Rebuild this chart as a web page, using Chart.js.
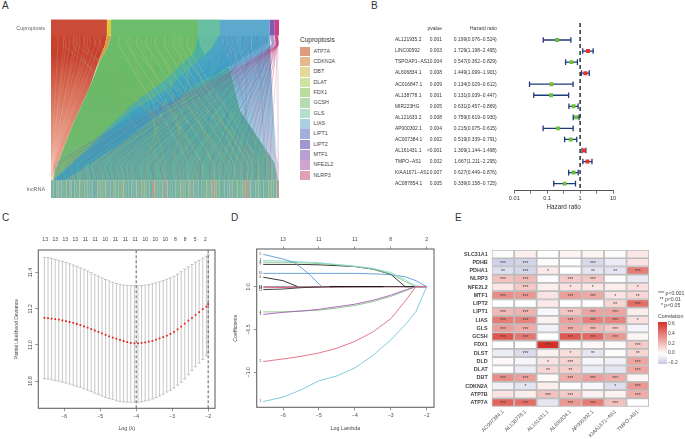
<!DOCTYPE html>
<html>
<head>
<meta charset="utf-8">
<script src="https://cdn.jsdelivr.net/npm/chart.js@4/dist/chart.umd.min.js"></script>
<style>
  html, body { margin: 0; padding: 0; background: #fff; overflow: hidden; }
  body { width: 685px; height: 439px; position: relative; font-family: "Liberation Sans", sans-serif; }
  canvas { position: absolute; }
  .t { position: absolute; white-space: nowrap; color: #444; line-height: 1; }
  .letter { font-size: 10px; color: #333; }
  .sw { position: absolute; left: 300px; width: 10px; height: 9.5px; }
</style>
</head>
<body>
<div class="t letter" style="left:2px;top:1px">A</div>
<div class="t letter" style="left:371px;top:1px">B</div>
<div class="t letter" style="left:2px;top:213px">C</div>
<div class="t letter" style="left:231px;top:213px">D</div>
<div class="t letter" style="left:455px;top:213px">E</div>

<canvas id="alluvial" width="295" height="210" style="left:0;top:0"></canvas>
<canvas id="forest" width="315" height="215" style="left:370px;top:0"></canvas>
<canvas id="cvPlot" width="225" height="219" style="left:0;top:220px"></canvas>
<canvas id="pathPlot" width="222" height="219" style="left:228px;top:220px"></canvas>
<canvas id="heat" width="235" height="219" style="left:450px;top:220px"></canvas>

<script>
Chart.defaults.font.family = '"Liberation Sans", sans-serif';
Chart.defaults.animation = false;
Chart.defaults.color = '#444';

// ---- A: alluvial ----
const legendGenes = ['ATP7A','CDKN2A','DBT','DLAT','FDX1','GCSH','GLS','LIAS','LIPT1','LIPT2','MTF1','NFE2L2','NLRP3'];
const legendColors = ['#e09a80','#e5b88e','#e5d89a','#cfe3a0','#b9dc9e','#b5dcae','#b2dfce','#abcfe3','#a4aedb','#a096d0','#b8a0d2','#d0a4d0','#e2a0b4'];

// top strata: [from, to, colour]
const strataFrom = [0, 24.5, 26.4, 64.6, 74.1, 95.9, 98.1];
const strataTo = [24.5, 26.4, 64.6, 74.1, 95.9, 98.1, 100];
const strataColors = ['#ca4c38','#dfc640','#6cbd6c','#68bfa2','#5da9cd','#7c5cb4','#cf3f82'];

// ribbon outlines, [x, y] in percent of the plot
const paleFan = [[74.1,91],[95.9,91],[97,60],[99.3,11],[98,20],[83,49],[78.6,72],[74.5,84]];
const redFan = [[0,100],[24.5,100],[24.5,91],[23.5,85],[21.5,79],[17.1,62.4],[9.8,41.9],[1.8,15.7],[0,10]];
const dbtFan = [[24.5,91],[26.4,91],[25,85],[21.5,77],[19,70],[21.5,79],[23.5,85]];
const greenFan = [[26.4,100],[64.6,100],[64.6,91],[64,83],[60,75],[72,40],[99.5,10],[0.5,10],[1.8,15.7],[9.8,41.9],[17.1,62.4],[21.5,77],[25,85],[26.4,91]];
const tealFan = [[64.6,91],[63,82],[50,66],[36,53],[1,10],[99.6,10],[98,20],[83,49],[78.6,72],[74.5,84],[74.1,91]];
const tealBlock = [[64.6,100],[74.1,100],[74.1,92],[71,85],[67.5,80],[65.5,85],[64.6,91]];
const blueBand = [[74.1,92],[95.9,92],[95,87],[82,76],[64,64],[50,49],[30,30],[6,10],[0.9,10],[36,49.3],[50,60],[67.5,80],[71,85]];

// strands, [top x, bottom x]
const nlrp3Strands = [[98.4,5],[98.9,8],[99.2,11],[98.6,14],[99.4,18],[98.2,21],[99,24],[98.7,28],[99.3,31],[98.4,35],[99,38],[98.6,42],[99.4,45],[98.3,49],[99,52],[98.7,56],[99.2,59],[98.5,63],[99,66],[98.2,70],[98.8,73],[99.4,76],[98.4,79],[99,82],[98.7,84.5],[98.2,85.5],[99.3,87],[98.8,89],[99.1,92],[98.5,94],[99.5,96]];
const lipt2Strands = [[96.2,3],[97,9],[96.6,15],[97.6,20],[96.3,26],[97.2,33],[96.8,39],[97.5,46],[96.4,51],[97,58],[96.7,65],[97.4,71],[96.2,77],[97,83],[97.6,90]];
const blueStrands = [[90,4],[84,7],[94,11],[78,15],[88,18],[80,22],[93,26],[85,29],[76,33],[90,37],[82,41],[94,45],[87,49],[78,53],[91,57],[84,61],[76,66],[89,70],[80,75],[93,80],[86,85],[79,90],[91,94]];
const greenStrands = [[58,42],[44,46],[35,50],[62,54],[50,58],[40,62],[30,66],[56,70],[46,74],[36,78],[60,82],[52,86],[42,90],[33,94],[55,96]];
const oliveStrands = [[10,48],[22,56],[15,64],[6,72],[20,78],[12,84],[25,90]];
const mixStrands = [[70,12],[68,20],[72,27],[66,35],[71,44],[69,52],[73,60],[67,68],[70,76],[72,88],[68,93]];
const paleStrands = [[76,99],[79,99.3],[82,98.8],[85,99.4],[88,98.5],[91,99],[94,99.5],[78,97],[83,97.6],[88,97],[93,96.6],[80,95.5],[86,94.5],[98.8,99.6],[99.2,99.8],[99.6,99.9]];
const redStrands = [[3,0.3],[5.5,0.5],[8,0.4],[10,0.8],[12.5,0.6],[14.5,1],[17,0.9],[19,1.2],[21,1.1],[6.5,0.2],[11,0.3],[15.8,0.5]];
const greenFanStrands = [[30,60],[34,66],[38,71],[42,76],[46,80],[50,83],[54,86],[57,88],[60,91]];

// bottom lncRNA strip, one colour digit per stripe
const stripPalette = ['#7ab3a0','#72b0a2','#84b498','#8bb394','#6fafa6','#94b190','#a8a592','#7fb0ad','#b09a8e','#79b596'];
const stripDigits = '0137021540931207415023713905241073152048312760419032157204193065210473129058371204913276';

function gradY(stops) {
  return ctx => {
    const a = ctx.chart.chartArea;
    if (!a) return stops[0];
    const g = ctx.chart.ctx.createLinearGradient(0, a.top, 0, a.bottom);
    stops.forEach((c, i) => g.addColorStop(i / (stops.length - 1), c));
    return g;
  };
}
function shape(pts, color) {
  return { data: pts.map(p => ({x: p[0], y: p[1]})), showLine: true, fill: 'shape', backgroundColor: color, borderWidth: 0, pointRadius: 0 };
}
function strand(pair, color, w) {
  // bottom end, bottom shoulder, top shoulder, top end
  return { data: [{x: pair[1], y: 10}, {x: pair[1], y: 20}, {x: pair[0], y: 85}, {x: pair[0], y: 91}], showLine: true, tension: 0.4, borderColor: color, borderWidth: w, pointRadius: 0, fill: false };
}

const alluvialSets = [
  shape(redFan, gradY(['#c9452f','#c6402e','#d56a53','#e28c76','#eaa28e','#eaa28e'])),
  shape(dbtFan, '#e09a3c'),
  shape(greenFan, gradY(['#6cbd6c','#69ba68','#6eb96a','#86b58c'])),
  shape(paleFan, gradY(['#5da9cd','#78b6d5','#a6cde3','#d3e6f0'])),
  shape(tealFan, gradY(['#4bb39a','#4bb0a6','#58ab9f','#72b19d'])),
  shape(tealBlock, '#68bfa2'),
  shape(blueBand, gradY(['#55a5cb','#3fa2c5','#3ea2b9','#49a4b5']))
];
redStrands.forEach(s => alluvialSets.push(strand(s, 'rgba(255,225,210,0.22)', 0.7)));
greenFanStrands.forEach(s => alluvialSets.push(strand(s, 'rgba(200,230,190,0.22)', 1)));
paleStrands.forEach(s => alluvialSets.push(strand(s, 'rgba(215,170,205,0.5)', 0.5)));
blueStrands.forEach(s => alluvialSets.push(strand(s, 'rgba(70,130,190,0.3)', 0.8)));
mixStrands.forEach(s => alluvialSets.push(strand(s, 'rgba(90,175,160,0.35)', 0.8)));
greenStrands.forEach(s => alluvialSets.push(strand(s, 'rgba(165,185,100,0.4)', 0.8)));
oliveStrands.forEach(s => alluvialSets.push(strand(s, 'rgba(170,170,110,0.35)', 0.8)));
lipt2Strands.forEach(s => alluvialSets.push(strand(s, 'rgba(125,85,175,0.35)', 0.6)));
nlrp3Strands.forEach(s => alluvialSets.push(strand(s, 'rgba(195,65,125,0.36)', 0.6)));
strataFrom.forEach((f, i) => {
  alluvialSets.push(shape([[f,100],[strataTo[i],100],[strataTo[i],91],[f,91]], strataColors[i]));
});
[...stripDigits].forEach((d, i) => {
  const w = 100 / stripDigits.length;
  alluvialSets.push(shape([[i*w,0],[(i+1)*w,0],[(i+1)*w,10],[i*w,10]], stripPalette[+d]));
});
// chart.js paints the first dataset last, so flip to keep the list in paint order
alluvialSets.reverse();

new Chart(document.getElementById('alluvial'), {
  type: 'scatter',
  data: { datasets: alluvialSets },
  options: {
    responsive: false,
    layout: { padding: { top: 19.5, right: 16, bottom: 12 } },
    plugins: { legend: { display: false }, tooltip: { enabled: false } },
    scales: {
      x: { type: 'linear', min: 0, max: 100, display: false },
      y: {
        type: 'linear', min: 0, max: 100,
        afterFit: s => { s.width = 51; },
        afterBuildTicks: s => { s.ticks = [{value: 5}, {value: 95}]; },
        grid: { display: false, drawTicks: false }, border: { display: false },
        ticks: { autoSkip: false, padding: 6, color: '#666', font: { size: 5.4 }, callback: v => v === 95 ? 'Cuproptosis' : 'lncRNA' }
      }
    }
  }
});

// html legend of panel A
document.body.insertAdjacentHTML('beforeend', '<div class="t" style="left:300px;top:36.5px;font-size:6.5px;color:#333">Cuproptosis</div>');
legendGenes.forEach((g, i) => {
  const y = 51.3 + i * 10.35;
  document.body.insertAdjacentHTML('beforeend',
    `<div class="sw" style="top:${y - 4.75}px;background:${legendColors[i]}"></div>` +
    `<div class="t" style="left:313.5px;top:${y - 2.7}px;font-size:5.35px">${g}</div>`);
});

// ---- B: forest ----
const forestGenes = ['AL121935.2','LINC00592','TSPOAP1\u2212AS1','AL606834.1','AC016847.1','AL138778.1','MIR223HG','AL121633.2','AP000302.1','AC007384.1','AL161431.1','TMPO\u2212AS1','KIAA1671\u2212AS1','AC087854.1'];
const forestP = ['0.001','0.003','0.004','0.008','0.009','0.001','0.005','0.008','0.004','0.002','<0.001','0.002','0.007','0.005'];
const forestHR = [0.199,1.729,0.547,1.449,0.134,0.131,0.631,0.759,0.215,0.519,1.309,1.667,0.627,0.339];
const forestLow = [0.076,1.198,0.362,1.099,0.029,0.039,0.457,0.619,0.075,0.339,1.144,1.211,0.449,0.158];
const forestHigh = [0.524,2.495,0.829,1.901,0.612,0.447,0.869,0.930,0.615,0.791,1.498,2.295,0.876,0.725];
const forestTicks = [0.01,0.0316,0.1,0.316,1,3.16,10];

const forestSets = [];
forestSets.push({
  data: forestHR.map((v, i) => ({x: v, y: i})),
  pointStyle: 'rect', pointRadius: 2.8, pointBorderWidth: 0,
  pointBackgroundColor: forestHR.map(v => v > 1 ? '#e8322b' : '#6cbf3a')
});
forestSets.push({
  data: [{x: 1, y: -1.54}, {x: 1, y: 13.64}], showLine: true, borderColor: '#111', borderWidth: 1.3, borderDash: [4, 3], pointRadius: 0
});
forestGenes.forEach((g, i) => {
  forestSets.push({
    data: [{x: forestLow[i], y: i}, {x: forestHigh[i], y: i}],
    showLine: true, borderColor: '#1f3a7a', borderWidth: 1.3,
    pointStyle: 'line', pointRotation: 90, pointRadius: 2.8, pointBorderColor: '#1f3a7a', pointBorderWidth: 1.3
  });
});

const forestColumns = {
  id: 'forestColumns',
  afterDraw(chart) {
    const c = chart.ctx, y = chart.scales.y;
    c.save();
    c.font = '4.9px "Liberation Sans"';
    c.fillStyle = '#333';
    c.textBaseline = 'middle';
    c.textAlign = 'right';
    c.fillText('pvalue', 72, y.getPixelForValue(-1));
    c.fillText('Hazard ratio', 126.7, y.getPixelForValue(-1));
    forestGenes.forEach((g, i) => {
      const py = y.getPixelForValue(i);
      c.textAlign = 'left';
      c.fillText(g, 25, py);
      c.textAlign = 'right';
      c.fillText(forestP[i], 72, py);
      c.fillText(`${forestHR[i].toFixed(3)}(${forestLow[i].toFixed(3)}\u2212${forestHigh[i].toFixed(3)})`, 126.7, py);
    });
    c.restore();
  }
};

new Chart(document.getElementById('forest'), {
  type: 'scatter',
  data: { datasets: forestSets },
  plugins: [forestColumns],
  options: {
    responsive: false,
    layout: { padding: { top: 23, right: 72 } },
    plugins: { legend: { display: false }, tooltip: { enabled: false } },
    scales: {
      x: {
        type: 'logarithmic', min: 0.01, max: 10,
        afterFit: s => { s.height = 24.3; },
        afterBuildTicks: s => { s.ticks = forestTicks.map(v => ({value: v})); },
        grid: { drawOnChartArea: false, tickLength: 3, tickColor: '#555', tickWidth: 0.8 },
        border: { color: '#555', width: 1 },
        title: { display: true, text: 'Hazard ratio', font: { size: 6.3 }, color: '#333', padding: { top: 0, bottom: 4.2 } },
        ticks: { autoSkip: false, maxRotation: 0, padding: 1.5, color: '#333', font: { size: 5.6 }, callback: v => [0.01,0.1,1,10].includes(v) ? String(v) : '' }
      },
      y: { type: 'linear', reverse: true, min: -1.54, max: 13.64, afterFit: s => { s.width = 144.3; }, grid: { display: false }, border: { display: false }, ticks: { display: false } }
    }
  }
});

// ---- C: cross validation curve ----
const cvLambda = [-6.55,-6.45,-6.35,-6.25,-6.15,-6.05,-5.95,-5.85,-5.75,-5.65,-5.55,-5.45,-5.35,-5.25,-5.15,-5.05,-4.95,-4.85,-4.75,-4.65,-4.55,-4.45,-4.35,-4.25,-4.15,-4.05,-3.95,-3.85,-3.75,-3.65,-3.55,-3.45,-3.35,-3.25,-3.15,-3.05,-2.95,-2.85,-2.75,-2.65,-2.55,-2.45,-2.35,-2.25,-2.15,-2.05,-2.0];
const cvMean = [11.150,11.148,11.146,11.143,11.140,11.136,11.132,11.127,11.122,11.116,11.110,11.103,11.096,11.088,11.080,11.072,11.064,11.056,11.048,11.041,11.035,11.028,11.022,11.016,11.012,11.009,11.009,11.011,11.014,11.018,11.023,11.029,11.036,11.044,11.052,11.062,11.073,11.086,11.102,11.118,11.134,11.150,11.166,11.182,11.198,11.212,11.226];
const cvUpper = [11.483,11.482,11.478,11.474,11.468,11.462,11.456,11.449,11.442,11.434,11.426,11.418,11.409,11.400,11.390,11.380,11.371,11.362,11.354,11.346,11.340,11.335,11.331,11.329,11.328,11.328,11.328,11.329,11.331,11.334,11.338,11.343,11.349,11.356,11.363,11.371,11.380,11.392,11.405,11.420,11.432,11.445,11.458,11.468,11.480,11.490,11.500];
const cvLower = [10.814,10.812,10.808,10.804,10.800,10.795,10.790,10.784,10.778,10.772,10.766,10.758,10.750,10.742,10.734,10.726,10.718,10.710,10.704,10.698,10.692,10.688,10.685,10.684,10.684,10.684,10.684,10.686,10.690,10.695,10.702,10.710,10.718,10.728,10.740,10.750,10.762,10.778,10.794,10.812,10.836,10.858,10.880,10.900,10.920,10.940,10.954];
const cvTopPos = [-6.53,-6.25,-5.97,-5.69,-5.41,-5.14,-4.86,-4.58,-4.3,-4.03,-3.75,-3.47,-3.19,-2.91,-2.64,-2.36,-2.08];
const cvTopLabels = ['13','13','13','13','11','11','10','11','11','11','10','10','10','8','8','5','2'];
const cvVlines = [-4.0, -2.0];

const boxPlugin = {
  id: 'boxPlugin',
  afterDraw(chart) {
    const a = chart.chartArea, c = chart.ctx;
    c.save();
    c.strokeStyle = '#666';
    c.lineWidth = 1.1;
    c.strokeRect(a.left, a.top, a.right - a.left, a.bottom - a.top);
    c.restore();
  }
};

function rAxisX(min, max, title, height) {
  return {
    type: 'linear', min: min, max: max, position: 'bottom',
    afterFit: s => { s.height = height; },
    afterBuildTicks: s => { s.ticks = [-6,-5,-4,-3,-2].map(v => ({value: v})); },
    grid: { drawOnChartArea: false, tickLength: 3, tickColor: '#666', tickWidth: 0.7 },
    border: { display: false },
    title: { display: true, text: title, font: { size: 5.3 }, color: '#444', padding: { top: 0, bottom: 7 } },
    ticks: { autoSkip: false, maxRotation: 0, padding: 2.5, color: '#444', font: { size: 5 }, callback: v => String(v).replace('-', '\u2212') }
  };
}

const cvBars = [];
cvLambda.forEach((x, i) => {
  cvBars.push({x: x, y: cvLower[i]}, {x: x, y: cvUpper[i]}, {x: NaN, y: NaN});
});

new Chart(document.getElementById('cvPlot'), {
  type: 'scatter',
  data: { datasets: [
    { data: cvLambda.map((x, i) => ({x: x, y: cvMean[i]})), pointStyle: 'rect', pointRadius: 1.25, pointBorderWidth: 0, pointBackgroundColor: '#e3261c' },
    { data: [{x: cvVlines[0], y: 10.65}, {x: cvVlines[0], y: 11.525}], showLine: true, borderColor: '#333', borderWidth: 0.8, borderDash: [3, 2], pointRadius: 0 },
    { data: [{x: cvVlines[1], y: 10.65}, {x: cvVlines[1], y: 11.525}], showLine: true, borderColor: '#333', borderWidth: 0.8, borderDash: [3, 2], pointRadius: 0 },
    { data: cvBars, showLine: true, borderColor: '#c0c0c0', borderWidth: 0.9, pointStyle: 'line', pointRadius: 1.6, pointBorderColor: '#bdbdbd', pointBorderWidth: 0.9, spanGaps: false }
  ] },
  plugins: [boxPlugin],
  options: {
    responsive: false,
    layout: { padding: { right: 10 } },
    plugins: { legend: { display: false }, tooltip: { enabled: false } },
    scales: {
      x: rAxisX(-6.72, -1.81, 'Log (\u03bb)', 30.7),
      xTop: {
        type: 'linear', position: 'top', min: -6.72, max: -1.81,
        afterFit: s => { s.height = 30; },
        afterBuildTicks: s => { s.ticks = cvTopPos.map(v => ({value: v})); },
        grid: { display: false, drawTicks: false }, border: { display: false },
        ticks: { autoSkip: false, maxRotation: 0, padding: 7, color: '#444', font: { size: 5 }, callback: (v, i) => cvTopLabels[i] }
      },
      y: {
        type: 'linear', min: 10.65, max: 11.525,
        afterFit: s => { s.width = 38.3; },
        afterBuildTicks: s => { s.ticks = [10.8,11,11.2,11.4].map(v => ({value: v})); },
        grid: { drawOnChartArea: false, tickLength: 3, tickColor: '#666', tickWidth: 0.7 },
        border: { display: false },
        title: { display: true, text: 'Partial Likelihood Deviance', font: { size: 5 }, color: '#444', padding: { top: 13.5, bottom: 0 } },
        ticks: { autoSkip: false, minRotation: 90, maxRotation: 90, crossAlign: 'center', padding: 0, color: '#444', font: { size: 5 }, callback: v => v.toFixed(1) }
      }
    }
  }
});

// ---- D: coefficient paths ----
const pathLambda = [-6.55,-6,-5.5,-5,-4.5,-4,-3.5,-3,-2.6,-2.3,-2];
const pathCyanLow = [-1.342,-1.292,-1.206,-1.10,-1.043,-0.95,-0.805,-0.623,-0.447,-0.292,0];
const pathRed = [-0.875,-0.845,-0.815,-0.775,-0.72,-0.64,-0.53,-0.375,-0.17,0,0];
const pathPurple = [-0.325,-0.30,-0.285,-0.265,-0.235,-0.205,-0.16,-0.10,-0.04,0,0];
const pathGreenLow = [-0.295,-0.295,-0.285,-0.275,-0.25,-0.22,-0.175,-0.115,-0.05,0,0];
const pathAqua = [0.305,0.30,0.29,0.28,0.26,0.24,0.215,0.165,0.08,0.01,0];
const pathGreenTop = [0.285,0.285,0.28,0.27,0.255,0.235,0.205,0.15,0.06,0,0];
const pathBlack = [0.26,0.26,0.26,0.255,0.245,0.235,0.205,0.145,0,0,0];
const pathBlueFlat = [0.155,0.155,0.155,0.155,0.155,0.155,0.15,0.14,0.115,0.07,0];
const pathPink = [-0.012,-0.01,-0.007,-0.005,-0.003,-0.001,0,0,0,0,0];
const pathDark = [-0.035,-0.028,-0.012,-0.005,0,0,0,0,0,0,0];
const pathGrey = [0,0,0,0,0,0,0,0,0,0,0];
const blueTopX = [-6.55,-6,-5.67,-5.3,-4.93];
const blueTopY = [0.377,0.323,0.28,0.156,0.005];
const black2X = [-6.55,-6,-5.6];
const black2Y = [0.11,0.07,0.002];
const blackZeroX = [-4.7,-4,-3.2];
const blackZeroY = [0,0,0];

function pathLine(xs, ys, color) {
  return { data: xs.map((x, i) => ({x: x, y: ys[i]})), showLine: true, borderColor: color, borderWidth: 0.9, pointRadius: 0 };
}
const pathSets = [
  pathLine(pathLambda, pathGrey, '#808080'),
  pathLine(pathLambda, pathPink, '#d9507f'),
  pathLine(pathLambda, pathDark, '#333'),
  pathLine(blackZeroX, blackZeroY, '#111'),
  pathLine(pathLambda, pathBlueFlat, '#5b9bd5'),
  pathLine(pathLambda, pathBlack, '#222'),
  pathLine(pathLambda, pathGreenTop, '#84c97f'),
  pathLine(pathLambda, pathAqua, '#8fd8e0'),
  pathLine(black2X, black2Y, '#222'),
  pathLine(blueTopX, blueTopY, '#5b9bd5'),
  pathLine(pathLambda, pathGreenLow, '#84c97f'),
  pathLine(pathLambda, pathPurple, '#a95cbc'),
  pathLine(pathLambda, pathRed, '#e2697f'),
  pathLine(pathLambda, pathCyanLow, '#6fcad6')
].reverse();

const pathNumbers = {
  id: 'pathNumbers',
  afterDatasetsDraw(chart) {
    const c = chart.ctx, sx = chart.scales.x, sy = chart.scales.y;
    c.save();
    c.font = '3.2px "Liberation Sans"';
    c.fillStyle = '#444';
    c.textAlign = 'center';
    c.textBaseline = 'middle';
    chart.data.datasets.forEach((d, i) => {
      c.fillText(String(i + 1), sx.getPixelForValue(-6.63), sy.getPixelForValue(d.data[0].y));
    });
    c.restore();
  }
};

new Chart(document.getElementById('pathPlot'), {
  type: 'scatter',
  data: { datasets: pathSets },
  plugins: [boxPlugin, pathNumbers],
  options: {
    responsive: false,
    layout: { padding: { right: 16 } },
    plugins: { legend: { display: false }, tooltip: { enabled: false } },
    scales: {
      x: rAxisX(-6.733, -1.796, 'Log Lambda', 31.7),
      xTop: {
        type: 'linear', position: 'top', min: -6.733, max: -1.796,
        afterFit: s => { s.height = 29; },
        afterBuildTicks: s => { s.ticks = [-6,-5,-4,-3,-2].map(v => ({value: v})); },
        grid: { drawOnChartArea: false, tickLength: 2.5, tickColor: '#666', tickWidth: 0.7 }, border: { display: false },
        ticks: { autoSkip: false, maxRotation: 0, padding: 4.3, color: '#444', font: { size: 5 }, callback: (v, i) => ['13','11','11','8','2'][i] }
      },
      y: {
        type: 'linear', min: -1.41, max: 0.44,
        afterFit: s => { s.width = 28.7; },
        afterBuildTicks: s => { s.ticks = [-1,-0.5,0].map(v => ({value: v})); },
        grid: { drawOnChartArea: false, tickLength: 3, tickColor: '#666', tickWidth: 0.7 },
        border: { display: false },
        title: { display: true, text: 'Coefficients', font: { size: 5.2 }, color: '#444', padding: { top: 4, bottom: 0 } },
        ticks: { autoSkip: false, minRotation: 90, maxRotation: 90, crossAlign: 'center', padding: 0, color: '#444', font: { size: 5 }, callback: v => v.toFixed(1).replace('-', '\u2212') }
      }
    }
  }
});

// ---- E: correlation heatmap ----
const heatRows = ['SLC31A1','PDHB','PDHA1','NLRP3','NFE2L2','MTF1','LIPT2','LIPT1','LIAS','GLS','GCSH','FDX1','DLST','DLD','DLAT','DBT','CDKN2A','ATP7B','ATP7A'];
const heatCols = ['AC007384.1','AL138778.1','AL161431.1','AL606834.1','AP000302.1','KIAA1671\u2212AS1','TMPO\u2212AS1'];
const heatValues = [
  [0.01,0.05,0,0.03,0.03,0.01,0.07],
  [-0.17,-0.16,0.01,0,-0.14,-0.07,0.08],
  [-0.12,-0.15,0.06,0,-0.10,-0.10,0.38],
  [0.18,0.20,-0.01,0.15,0.16,0.01,-0.08],
  [0.07,0.16,0.05,0.08,0.07,0.05,0.09],
  [0.33,0.30,0.08,0.28,0.25,0.08,0.12],
  [0,0,0.06,0,0,0.12,0.42],
  [0.20,0.22,-0.03,0.17,0.26,0.26,0.05],
  [0.38,0.36,0.04,0.28,0.37,0.36,0.09],
  [0.28,0.24,-0.05,0.24,0.20,0.15,-0.04],
  [0.49,0.40,0,0.48,0.44,0.30,0.03],
  [0,0,0.60,0,0.02,0.01,0.15],
  [-0.07,-0.13,0.04,0.10,-0.09,0.01,0.12],
  [0.02,-0.03,0.08,0.13,-0.03,-0.05,0.26],
  [0,-0.07,0.12,0.14,-0.07,-0.09,0.26],
  [0.33,0.28,0.01,0.24,0.28,0.24,0.03],
  [-0.05,-0.10,0.05,0,-0.03,-0.12,0.30],
  [0.08,0.05,0.18,0.15,0.04,0.04,0.24],
  [0.45,0.42,-0.09,0.30,0.38,0.18,0]
];
const heatStars = [
  ['','','','','','',''],
  ['***','***','','','***','',''],
  ['**','***','*','','**','**','***'],
  ['***','***','','***','***','',''],
  ['','***','','*','*','','*'],
  ['***','***','','***','***','*','**'],
  ['','','','','','**','***'],
  ['***','***','','***','***','***',''],
  ['***','***','','***','***','***','*'],
  ['***','***','','***','***','***',''],
  ['***','***','','***','***','***',''],
  ['','','***','','','','***'],
  ['','***','','*','**','','**'],
  ['','','*','***','','','***'],
  ['','','**','**','','','***'],
  ['***','***','','***','***','***',''],
  ['','*','','','','*','***'],
  ['','','***','***','','','***'],
  ['***','***','','***','***','***','']
];

function heatColor(v) {
  // white at 0, red at 0.6, lavender at -0.2
  const top = v >= 0 ? [215,48,39] : [200,200,228];
  const t = Math.min(1, v >= 0 ? v / 0.6 : -v / 0.2);
  const ch = k => Math.round(255 + (top[k] - 255) * t);
  return `rgb(${ch(0)},${ch(1)},${ch(2)})`;
}

const heatStarPlugin = {
  id: 'heatStarPlugin',
  afterDatasetsDraw(chart) {
    const c = chart.ctx, sx = chart.scales.x, sy = chart.scales.y;
    c.save();
    c.font = '5px "Liberation Sans"';
    c.fillStyle = '#444';
    c.textAlign = 'center';
    c.textBaseline = 'middle';
    heatStars.forEach((row, r) => row.forEach((s, k) => {
      if (s) c.fillText(s, sx.getPixelForValue(k + 0.5), sy.getPixelForValue(r) + 0.8);
    }));
    c.restore();
  }
};

new Chart(document.getElementById('heat'), {
  type: 'bar',
  data: {
    labels: heatRows,
    datasets: heatCols.map((name, k) => ({
      label: name,
      data: heatRows.map(() => 1),
      backgroundColor: heatRows.map((r, i) => heatColor(heatValues[i][k])),
      borderColor: '#bdbdbd', borderWidth: 1.2, borderSkipped: false,
      barPercentage: 1, categoryPercentage: 1
    }))
  },
  plugins: [heatStarPlugin],
  options: {
    indexAxis: 'y',
    responsive: false,
    layout: { padding: { top: 30, right: 36 } },
    plugins: { legend: { display: false }, tooltip: { enabled: false } },
    scales: {
      x: {
        type: 'linear', stacked: true, min: 0, max: 7,
        afterFit: s => { s.height = 32.3; },
        afterBuildTicks: s => { s.ticks = heatCols.map((n, k) => ({value: k + 0.5})); },
        grid: { display: false, drawTicks: false }, border: { display: false },
        ticks: { autoSkip: false, minRotation: 45, maxRotation: 45, padding: 2, color: '#555', font: { size: 5.2 }, callback: (v, i) => heatCols[i] }
      },
      y: {
        stacked: true,
        afterFit: s => { s.width = 41.7; },
        grid: { display: false, drawTicks: false }, border: { display: false },
        ticks: { autoSkip: false, padding: 4, color: '#444', font: { size: 5.4, weight: 'bold' } }
      }
    }
  }
});

// legend of panel E
const sigLegend = ['*** p<0.001', ' ** p<0.01', '  * p<0.05'];
const barTicks = ['0.6', '0.4', '0.2', '0.0', '\u22120.2'];
const barTickY = [324, 334, 344, 353.7, 363.3];
sigLegend.forEach((s, i) => {
  document.body.insertAdjacentHTML('beforeend',
    `<div class="t" style="left:658px;top:${291.3 + i * 5.85}px;font-size:5.2px;white-space:pre">${s}</div>`);
});
document.body.insertAdjacentHTML('beforeend',
  '<div class="t" style="left:658px;top:314px;font-size:5.2px">Correlation</div>' +
  '<div style="position:absolute;left:658px;top:322px;width:8.5px;height:42px;background:linear-gradient(to bottom,#d73027 0%,#fff 76%,#c8c8e4 100%)"></div>');
barTicks.forEach((s, i) => {
  document.body.insertAdjacentHTML('beforeend',
    `<div class="t" style="left:668px;top:${barTickY[i] - 2.5}px;font-size:4.9px">${s}</div>`);
});
</script>
</body>
</html>
